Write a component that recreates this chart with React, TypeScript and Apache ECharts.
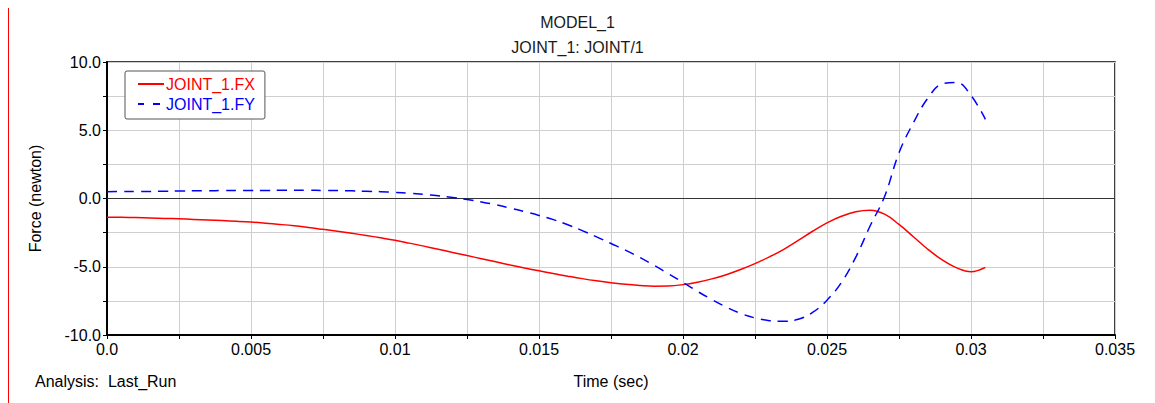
import React, { useEffect, useRef } from "react";
import * as echarts from "echarts";

const TIME = [
  0, 0.0005, 0.001, 0.0015, 0.002, 0.0025, 0.003, 0.0035, 0.004, 0.0045,
  0.005, 0.0055, 0.006, 0.0065, 0.007, 0.0075, 0.008, 0.0085, 0.009, 0.0095,
  0.01, 0.0105, 0.011, 0.0115, 0.012, 0.0125, 0.013, 0.0135, 0.014, 0.0145,
  0.015, 0.0155, 0.016, 0.0165, 0.017, 0.0175, 0.018, 0.0185, 0.019, 0.0195,
  0.02, 0.0205, 0.021, 0.0215, 0.022, 0.0225, 0.023, 0.0235, 0.024, 0.0245,
  0.025, 0.0255, 0.026, 0.0265, 0.027, 0.0275, 0.028, 0.0285, 0.029, 0.0295,
  0.03, 0.0305,
];

const FX = [
  -1.37, -1.38, -1.4, -1.43, -1.46, -1.49, -1.53, -1.57, -1.62, -1.67,
  -1.73, -1.81, -1.9, -2.0, -2.12, -2.26, -2.4, -2.55, -2.71, -2.88,
  -3.06, -3.27, -3.49, -3.72, -3.95, -4.18, -4.41, -4.64, -4.87, -5.09,
  -5.3, -5.5, -5.69, -5.87, -6.03, -6.17, -6.29, -6.37, -6.42, -6.41,
  -6.31, -6.13, -5.89, -5.58, -5.2, -4.77, -4.28, -3.72, -3.07, -2.4,
  -1.78, -1.3, -0.97, -0.86, -1.15, -1.9, -2.8, -3.72, -4.5, -5.08,
  -5.37, -5.05,
];

const FY = [
  0.5, 0.51, 0.52, 0.52, 0.53, 0.55, 0.56, 0.57, 0.58, 0.58,
  0.59, 0.59, 0.6, 0.6, 0.6, 0.59, 0.58, 0.56, 0.53, 0.5,
  0.45, 0.38, 0.3, 0.2, 0.08, -0.07, -0.25, -0.46, -0.7, -0.96,
  -1.24, -1.55, -1.92, -2.35, -2.81, -3.3, -3.78, -4.32, -4.9, -5.52,
  -6.15, -6.8, -7.4, -7.95, -8.42, -8.75, -8.95, -9.0, -8.85, -8.35,
  -7.45, -6.15, -4.3, -2.0, 0.15, 3.35, 5.55, 7.35, 8.4, 8.5,
  7.55, 5.8,
];

const SERIES_NAMES = ["JOINT_1.FX", "JOINT_1.FY"];
const TITLE_LINES = ["MODEL_1", "JOINT_1: JOINT/1"];
const X_NAME = "Time (sec)";
const Y_NAME = "Force (newton)";
const ANALYSIS = "Analysis:  Last_Run";

const FONT = "'Liberation Sans', Arial, sans-serif";

const SOLID_ICON = "path://M0,0h26v2h-26z";
const DASH_ICON = "path://M0,0h6v2h-6zM15,0h7v2h-7zM25.95,0h0.05v0.05h-0.05z";

export default function App() {
  const ref = useRef<HTMLDivElement>(null);

  useEffect(() => {
    if (!ref.current) return;
    const chart = echarts.init(ref.current, null, { renderer: "svg" });
    const fxData = TIME.map((t, i) => [t, FX[i]]);
    const fyData = TIME.map((t, i) => [t, FY[i]]);
    const gridLine = { show: true, lineStyle: { color: "#cfcfcf", width: 1 } };

    chart.setOption({
      animation: false,
      backgroundColor: "#ffffff",
      textStyle: { fontFamily: FONT },
      title: {
        text: TITLE_LINES.join("\n"),
        left: "center",
        top: 5,
        textStyle: { fontSize: 16, fontWeight: "normal", color: "#1a1a1a", lineHeight: 25, fontFamily: FONT },
      },
      legend: {
        orient: "vertical",
        left: 125,
        top: 71,
        itemWidth: 26,
        itemHeight: 2,
        itemGap: 4,
        padding: [5, 10, 7, 13],
        backgroundColor: "#ffffff",
        borderColor: "#555555",
        borderWidth: 1,
        borderRadius: 2,
        textStyle: { fontSize: 16, fontFamily: FONT, padding: [0, 0, 0, -3] },
        data: [
          { name: SERIES_NAMES[0], icon: SOLID_ICON, itemStyle: { color: "#ff0000" }, textStyle: { color: "#ff0000" } },
          { name: SERIES_NAMES[1], icon: DASH_ICON, itemStyle: { color: "#0000ff" }, textStyle: { color: "#0000ff" } },
        ],
      },
      grid: {
        left: 107,
        right: 40,
        top: 62,
        bottom: 68,
        show: true,
        borderColor: "#000",
        borderWidth: 1.5,
        backgroundColor: "transparent",
      },
      xAxis: {
        type: "value",
        min: 0,
        max: 0.035,
        interval: 0.005,
        name: X_NAME,
        nameLocation: "middle",
        nameGap: 38,
        nameTextStyle: { fontSize: 16, color: "#000", fontFamily: FONT },
        axisLine: { show: true, onZero: false, lineStyle: { color: "#000", width: 2 } },
        axisTick: { show: true, length: 4, lineStyle: { color: "#000" } },
        minorTick: { show: true, splitNumber: 2, length: 4, lineStyle: { color: "#000" } },
        splitLine: gridLine,
        minorSplitLine: gridLine,
        axisLabel: {
          fontSize: 16,
          color: "#000",
          margin: 6,
          fontFamily: FONT,
          formatter: (v: number) => (v === 0 ? "0.0" : String(+v.toFixed(4))),
        },
      },
      yAxis: {
        type: "value",
        min: -10,
        max: 10,
        interval: 5,
        name: Y_NAME,
        nameLocation: "middle",
        nameRotate: 90,
        nameGap: 64,
        nameTextStyle: { fontSize: 16, color: "#000", fontFamily: FONT },
        axisLine: { show: true, onZero: false, lineStyle: { color: "#000", width: 2 } },
        axisTick: { show: true, length: 4, lineStyle: { color: "#000" } },
        minorTick: { show: true, splitNumber: 2, length: 4, lineStyle: { color: "#000" } },
        splitLine: gridLine,
        minorSplitLine: gridLine,
        axisLabel: {
          fontSize: 16,
          color: "#000",
          margin: 6,
          fontFamily: FONT,
          formatter: (v: number) => v.toFixed(1),
        },
      },
      series: [
        {
          name: SERIES_NAMES[0],
          type: "line",
          data: fxData,
          symbol: "none",
          smooth: 0.4,
          color: "#ff0000",
          lineStyle: { color: "#ff0000", width: 1.5 },
          z: 3,
          markLine: {
            silent: true,
            symbol: "none",
            label: { show: false },
            lineStyle: { color: "#333", width: 1, type: "solid" },
            data: [{ yAxis: 0 }],
            z: 1,
          },
        },
        {
          name: SERIES_NAMES[1],
          type: "line",
          data: fyData,
          symbol: "none",
          smooth: 0.4,
          color: "#0000ff",
          lineStyle: { color: "#0000ff", width: 1.5, type: [10, 7] },
          z: 3,
        },
      ],
      graphic: [
        {
          type: "line",
          shape: { x1: 8.5, y1: 8, x2: 8.5, y2: 403 },
          style: { stroke: "#ff0000", lineWidth: 1 },
          silent: true,
        },
        {
          type: "text",
          left: 35,
          top: 373,
          style: { text: ANALYSIS, fontSize: 16, fill: "#000", fontFamily: FONT },
          silent: true,
        },
      ],
    });

    return () => chart.dispose();
  }, []);

  return (
    <div
      ref={ref}
      style={{ position: "fixed", left: 0, top: 0, width: 1155, height: 403 }}
    />
  );
}
